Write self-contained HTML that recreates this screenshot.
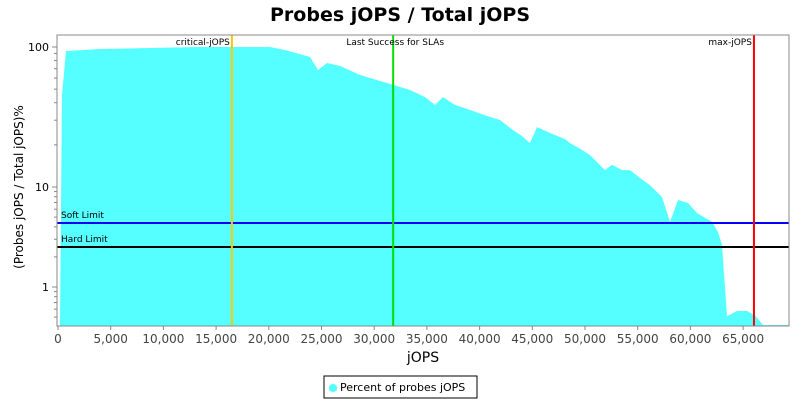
<!DOCTYPE html>
<html><head><meta charset="utf-8"><style>
body{margin:0;background:#fff;font-family:"Liberation Sans","DejaVu Sans",sans-serif}
svg text{font-family:"DejaVu Sans","Liberation Sans",sans-serif}
</style></head><body>
<svg id="chart" width="800" height="400" xmlns="http://www.w3.org/2000/svg">
<text x="400" y="21" text-anchor="middle" font-size="19" font-weight="bold">Probes jOPS / Total jOPS</text>
<g id="plot"></g>
<text x="423" y="362" text-anchor="middle" font-size="14">jOPS</text>
<text transform="translate(23,187) rotate(-90)" text-anchor="middle" font-size="12">(Probes jOPS / Total jOPS)%</text>
<g>
<rect x="324" y="376" width="153" height="22" fill="#fff" stroke="#000" stroke-width="1"/>
<path d="M329,391 L333,383 L337,391 Z" fill="#55FFFF"/>
<circle cx="333" cy="388" r="4" fill="#55FFFF"/>
<text x="340" y="391" font-size="11">Percent of probes jOPS</text>
</g>
</svg>
<script>
const jops=[190,380,760,3985,8730,13470,20110,21540,23910,24670,25520,26760,28650,29600,31500,33400,34820,35770,36530,37670,39090,40990,41940,43170,44020,44780,45450,46680,48100,48580,49720,50470,51900,52560,53510,54270,55220,56170,57310,58060,58820,59770,60630,62050,62620,63000,63470,64420,65370,66130,66890,69350];
const pct=[0.41,45.4,93.6,96.8,98.4,100,100,95.2,84.8,68.5,76.9,73.2,63.1,60.1,54.4,49.3,43.9,38.5,43.9,38.5,35.5,31.6,30.1,25.5,23.1,20.6,26.8,24.3,22.0,20.6,18.4,16.9,13.2,14.4,13.2,13.2,11.6,10.3,7.94,4.47,7.41,6.92,5.50,4.47,3.55,2.63,0.51,0.575,0.575,0.52,0.417,0.417];
const xTicks=[0,5000,10000,15000,20000,25000,30000,35000,40000,45000,50000,55000,60000,65000];
const yTicks=[1,10,100];
const markers=[{label:"critical-jOPS",v:16500,c:"#FFC800"},{label:"Last Success for SLAs",v:31800,c:"#00E000"},{label:"max-jOPS",v:66030,c:"#FF0000"}];
const limits=[{label:"Soft Limit",v:4.37,c:"#0000FF"},{label:"Hard Limit",v:2.51,c:"#000000"}];
const L=57,R=789,T=35,B=326;
function sx(v){return 58+v*0.01054;}
function sy(v){return v>=10?187-140*Math.log10(v/10):187+100*Math.log10(10/v);}
const NS="http://www.w3.org/2000/svg",g=document.getElementById('plot');
function mk(t,a){const e=document.createElementNS(NS,t);for(const k in a)e.setAttribute(k,a[k]);g.appendChild(e);return e;}
// area
let d="M"+sx(jops[0])+","+B;
for(let i=0;i<jops.length;i++)d+=" L"+sx(jops[i]).toFixed(1)+","+Math.min(B,sy(pct[i])).toFixed(1);
d+=" L"+sx(jops[jops.length-1])+","+B+" Z";
const area=mk('path',{d:d,fill:"#55FFFF"});


// limits
limits.forEach(l=>{const y=sy(l.v);
const ln=mk('line',{x1:L,x2:R,y1:y,y2:y,stroke:l.c,"stroke-width":2});


const t=mk('text',{x:61,y:y-5,"font-size":9});t.textContent=l.label;

});
// markers
markers.forEach(m=>{const x=sx(m.v);
const ln=mk('line',{x1:x,x2:x,y1:T,y2:B,stroke:m.c,"stroke-width":2});


const t=mk('text',{x:x-2,y:45,"font-size":9,"text-anchor":"end"});t.textContent=m.label;
if(m.label==="Last Success for SLAs"){t.setAttribute('x',x-50+52);t.setAttribute('text-anchor','middle');}

});
// frame
const fr=mk('rect',{x:L,y:T,width:R-L,height:B-T,fill:"none",stroke:"#888","stroke-width":1});


// x ticks
xTicks.forEach(v=>{const x=sx(v);
mk('line',{x1:x,x2:x,y1:B,y2:B+4,stroke:"#888"});
const t=mk('text',{x:x,y:B+17,"font-size":12,"text-anchor":"middle",fill:"#444"});t.textContent=v.toLocaleString('en-US');

});
// y ticks
yTicks.forEach(v=>{const y=sy(v);
mk('line',{x1:L-5,x2:L,y1:y,y2:y,stroke:"#888"});
const t=mk('text',{x:L-8,y:y+4,"font-size":11,"text-anchor":"end"});t.textContent=v;


if(v<100)for(let k=2;k<10;k++){const yy=sy(v*k);if(yy>T)mk('line',{x1:L-3,x2:L,y1:yy,y2:yy,stroke:"#888"});}});
for(let k=5;k<10;k++){const yy=sy(k/10);if(yy<B)mk('line',{x1:L-3,x2:L,y1:yy,y2:yy,stroke:"#888"});}
</script>
</body></html>
